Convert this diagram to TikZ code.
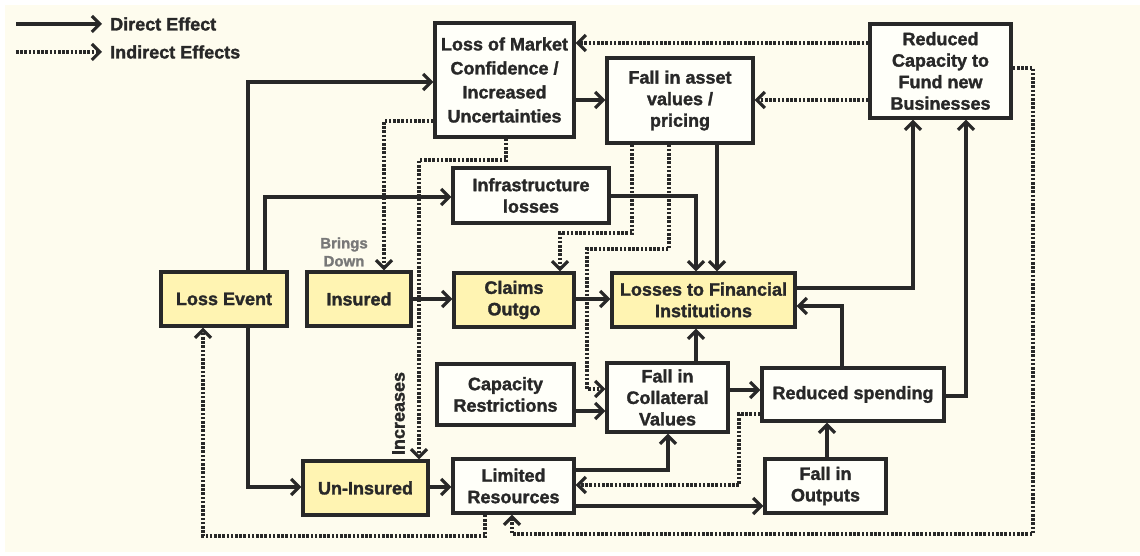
\documentclass[tikz,border=0pt]{standalone}
\usepackage{fontspec}
\setmainfont{Liberation Sans}[BoldFeatures={FakeBold=1.6}]
\usetikzlibrary{arrows.meta}
\definecolor{lc}{RGB}{40,40,40}
\definecolor{bgcream}{RGB}{254,252,238}
\definecolor{boxwhite}{RGB}{255,255,249}
\definecolor{boxyellow}{RGB}{255,244,178}
\definecolor{notegray}{RGB}{120,120,120}
\begin{document}
\begin{tikzpicture}[x=1pt,y=-1pt,
  every node/.style={font=\bfseries\fontsize{18}{21.5}\selectfont, text=lc},
  box/.style={draw=lc, line width=3.4pt, fill=boxwhite, inner sep=2pt,
    align=center, minimum width=#1},
  box/.default=100pt,
  ybox/.style={box=#1, fill=boxyellow},
  ybox/.default=100pt,
  eff/.style={draw=lc, line width=3.1pt, -{Straight Barb[length=8pt,width=16pt,line width=3.1pt]}},
  ieff/.style={eff, dash pattern=on 2.6pt off 1.6pt},
  note/.style={font=\bfseries\fontsize{15}{18}\selectfont, text=notegray, align=center, inner sep=0pt}]

% canvas
\useasboundingbox (0,0) rectangle (1140,556);
\fill[white] (0,0) rectangle (1140,556);
\fill[bgcream] (5,5) rectangle (1140,552);

% legend
\coordinate (l1a) at (16,24);
\coordinate (l1b) at (102,24);
\coordinate (l2a) at (16,52);
\coordinate (l2b) at (102,52);
\draw[eff] (l1a) -- (l1b);
\draw[ieff] (l2a) -- (l2b);
\node[anchor=west, inner sep=0pt] (lgd1) at (110,24) {Direct Effect};
\node[anchor=west, inner sep=0pt] (lgd2) at (110,52) {Indirect Effects};

% boxes
\node[box=139pt, minimum height=114pt, font=\bfseries\fontsize{18}{24}\selectfont] (conf) at (504.5,80)
  {Loss of Market\\Confidence /\\Increased\\Uncertainties};
\node[box=146pt, minimum height=85pt] (asset) at (680,100.5) {Fall in asset\\values /\\pricing};
\node[box=141pt, minimum height=94pt] (fund) at (940.5,71) {Reduced\\Capacity to\\Fund new\\Businesses};
\node[box=156pt, minimum height=55pt] (infra) at (531,195.5) {Infrastructure\\losses};
\node[ybox=126pt, minimum height=54pt] (event) at (224,299) {Loss Event};
\node[ybox=104pt, minimum height=54pt] (insured) at (359,299) {Insured};
\node[ybox=120pt, minimum height=54pt] (claims) at (514,300) {Claims\\Outgo};
\node[ybox=183pt, minimum height=54pt] (lossfi) at (703.5,300) {Losses to Financial\\Institutions};
\node[box=137pt, minimum height=61pt] (caprest) at (505.5,394.5) {Capacity\\Restrictions};
\node[box=121pt, minimum height=69pt] (coll) at (667.5,397.5) {Fall in\\Collateral\\Values};
\node[box=182pt, minimum height=53pt] (spend) at (853,394.5) {Reduced spending};
\node[ybox=125pt, minimum height=54pt] (uninsured) at (365.5,488) {Un-Insured};
\node[box=121pt, minimum height=54pt] (limited) at (513.5,486) {Limited\\Resources};
\node[box=121pt, minimum height=54pt] (outputs) at (825.5,486) {Fall in\\Outputs};

% labels
\node[note] (bdown) at (344,252) {Brings\\Down};
\node[rotate=90, inner sep=0pt] (incr) at (398.5,413.5) {Increases};

% direct effects
\draw[eff] (248,0 |- event.north) |- (conf.west |- 0,82);
\draw[eff] (265,0 |- event.north) |- (infra.west |- 0,197);
\draw[eff] (248,0 |- event.south) |- (uninsured.west |- 0,487);
\draw[eff] (insured.east |- 0,299) -- (claims.west |- 0,299);
\draw[eff] (claims.east |- 0,299) -- (lossfi.west |- 0,299);
\draw[eff] (conf.east |- 0,100) -- (asset.west |- 0,100);
\draw[eff] (717,0 |- asset.south) -- (717,0 |- lossfi.north);
\draw[eff] (infra.east |- 0,196) -| (696,0 |- lossfi.north);
\draw[eff] (lossfi.east |- 0,288) -| (913,0 |- fund.south);
\draw[eff] (spend.east |- 0,396) -| (966,0 |- fund.south);
\draw[eff] (842,0 |- spend.north) |- (lossfi.east |- 0,306);
\draw[eff] (696,0 |- coll.north) -- (696,0 |- lossfi.south);
\draw[eff] (coll.east |- 0,390) -- (spend.west |- 0,390);
\draw[eff] (caprest.east |- 0,411) -- (coll.west |- 0,411);
\draw[eff] (uninsured.east |- 0,487) -- (limited.west |- 0,487);
\draw[eff] (limited.east |- 0,470) -| (668,0 |- coll.south);
\draw[eff] (limited.east |- 0,506) -- (outputs.west |- 0,506);
\draw[eff] (827,0 |- outputs.north) -- (827,0 |- spend.south);

% indirect effects
\draw[ieff] (fund.west |- 0,43) -- (conf.east |- 0,43);
\draw[ieff] (fund.west |- 0,100) -- (asset.east |- 0,100);
\draw[ieff] (conf.west |- 0,121) -| (384,0 |- insured.north);
\draw[ieff] (506,0 |- conf.south) -- (506,160) -- (419,160) -- (419,0 |- uninsured.north);
\draw[ieff] (632,0 |- asset.south) -- (632,233) -| (560,0 |- claims.north);
\draw[ieff] (669,0 |- asset.south) -- (669,249) -| (587,389) -- (coll.west |- 0,389);
\draw[ieff] (spend.west |- 0,414) -| (739,485) -- (limited.east |- 0,485);
\draw[ieff] (485,0 |- limited.south) |- (203,536) -- (203,0 |- event.south);
\draw[ieff] (fund.east |- 0,68) -| (1033,534) -| (512,0 |- limited.south);
\end{tikzpicture}
\end{document}
